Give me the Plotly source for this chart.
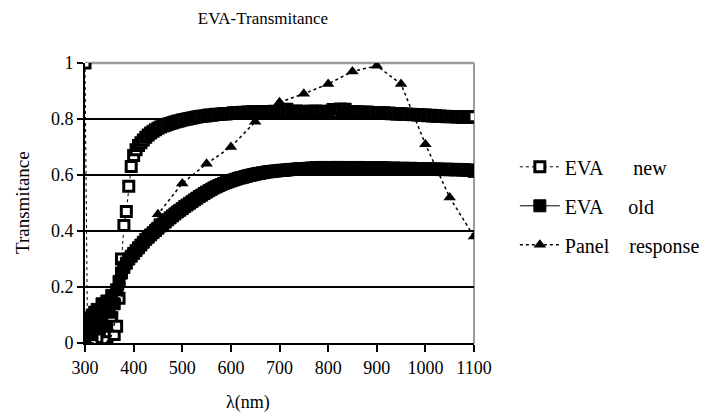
import plotly.graph_objects as go

# ---------------- data ----------------
WAVELENGTH = [
    300, 305, 310, 315, 320, 325, 330, 335, 340, 345,
    350, 355, 360, 365, 370, 375, 380, 385, 390, 395,
    400, 405, 410, 415, 420, 425, 430, 435, 440, 445,
    450, 455, 460, 465, 470, 475, 480, 485, 490, 495,
    500, 505, 510, 515, 520, 525, 530, 535, 540, 545,
    550, 555, 560, 565, 570, 575, 580, 585, 590, 595,
    600, 605, 610, 615, 620, 625, 630, 635, 640, 645,
    650, 655, 660, 665, 670, 675, 680, 685, 690, 695,
    700, 705, 710, 715, 720, 725, 730, 735, 740, 745,
    750, 755, 760, 765, 770, 775, 780, 785, 790, 795,
    800, 805, 810, 815, 820, 825, 830, 835, 840, 845,
    850, 855, 860, 865, 870, 875, 880, 885, 890, 895,
    900, 905, 910, 915, 920, 925, 930, 935, 940, 945,
    950, 955, 960, 965, 970, 975, 980, 985, 990, 995,
    1000, 1005, 1010, 1015, 1020, 1025, 1030, 1035, 1040, 1045,
    1050, 1055, 1060, 1065, 1070, 1075, 1080, 1085, 1090, 1095,
    1100,
]

EVA_NEW = [
    1.00, 0.05, 0.09, 0.03, 0.11, 0.04, 0.08, 0.02, 0.06, 0.01,
    0.04, 0.09, 0.03, 0.06, 0.16, 0.30, 0.42, 0.47, 0.56, 0.63,
    0.67, 0.69, 0.705, 0.715, 0.725, 0.735, 0.743, 0.75, 0.756, 0.762,
    0.767, 0.771, 0.775, 0.778, 0.781, 0.784, 0.787, 0.789, 0.792, 0.794,
    0.796, 0.798, 0.80, 0.802, 0.804, 0.805, 0.807, 0.809, 0.81, 0.811,
    0.812, 0.814, 0.813, 0.815, 0.817, 0.816, 0.818, 0.819, 0.818, 0.82,
    0.82, 0.822, 0.821, 0.823, 0.822, 0.824, 0.823, 0.825, 0.824, 0.826,
    0.825, 0.826, 0.824, 0.827, 0.826, 0.825, 0.827, 0.826, 0.828, 0.826,
    0.827, 0.826, 0.828, 0.835, 0.826, 0.828, 0.827, 0.829, 0.827, 0.826,
    0.828, 0.827, 0.826, 0.828, 0.827, 0.829, 0.826, 0.827, 0.828, 0.826,
    0.827, 0.828, 0.834, 0.827, 0.825, 0.836, 0.827, 0.835, 0.826, 0.824,
    0.825, 0.826, 0.824, 0.825, 0.823, 0.824, 0.825, 0.823, 0.822, 0.823,
    0.822, 0.823, 0.821, 0.822, 0.82, 0.821, 0.819, 0.82, 0.818, 0.819,
    0.818, 0.817, 0.818, 0.816, 0.817, 0.815, 0.816, 0.814, 0.815, 0.813,
    0.814, 0.812, 0.813, 0.811, 0.812, 0.81, 0.811, 0.809, 0.81, 0.808,
    0.809, 0.808, 0.809, 0.807, 0.808, 0.806, 0.807, 0.808, 0.806, 0.807,
    0.808,
]

EVA_OLD = [
    0.00, 0.07, 0.03, 0.10, 0.05, 0.12, 0.08, 0.14, 0.06, 0.15,
    0.11, 0.17, 0.14, 0.19, 0.22, 0.25, 0.27, 0.285, 0.30, 0.31,
    0.32, 0.33, 0.34, 0.35, 0.36, 0.37, 0.378, 0.386, 0.394, 0.402,
    0.41, 0.418, 0.425, 0.432, 0.44, 0.447, 0.454, 0.461, 0.468, 0.474,
    0.48, 0.487, 0.493, 0.499, 0.505, 0.511, 0.517, 0.523, 0.528, 0.534,
    0.539, 0.544, 0.549, 0.554, 0.558, 0.562, 0.566, 0.57, 0.573, 0.576,
    0.579, 0.582, 0.585, 0.588, 0.59, 0.592, 0.595, 0.597, 0.599, 0.601,
    0.603, 0.605, 0.606, 0.608, 0.609, 0.611, 0.612, 0.613, 0.614, 0.615,
    0.616, 0.617, 0.617, 0.618, 0.619, 0.62, 0.62, 0.621, 0.622, 0.622,
    0.623, 0.623, 0.624, 0.625, 0.624, 0.626, 0.625, 0.627, 0.626, 0.625,
    0.626, 0.627, 0.625, 0.626, 0.627, 0.626, 0.625, 0.627, 0.626, 0.625,
    0.626, 0.625, 0.627, 0.626, 0.625, 0.626, 0.624, 0.625, 0.626, 0.625,
    0.624, 0.625, 0.626, 0.624, 0.625, 0.623, 0.624, 0.625, 0.623, 0.624,
    0.623, 0.624, 0.622, 0.623, 0.624, 0.622, 0.623, 0.621, 0.622, 0.623,
    0.621, 0.622, 0.62, 0.621, 0.622, 0.62, 0.621, 0.619, 0.62, 0.621,
    0.619, 0.62, 0.618, 0.619, 0.62, 0.618, 0.619, 0.617, 0.618, 0.616,
    0.613,
]

PANEL_WL = [300, 350, 400, 450, 500, 550, 600, 650, 700, 750, 800, 850, 900, 950, 1000, 1050, 1100]
PANEL_RESPONSE = [0.0, 0.0, 0.33, 0.46, 0.57, 0.64, 0.70, 0.79, 0.86, 0.89, 0.925, 0.97, 0.99, 0.925, 0.71, 0.52, 0.38]

SERIES_NAMES = ["EVA\u00a0\u00a0\u00a0\u00a0\u00a0\u00a0new", "EVA\u00a0\u00a0\u00a0\u00a0\u00a0old",
                "Panel\u00a0\u00a0\u00a0\u00a0response"]
X_TICKS = [300, 400, 500, 600, 700, 800, 900, 1000, 1100]
Y_TICKS = [0, 0.2, 0.4, 0.6, 0.8, 1]

FONT = "Liberation Serif"

fig = go.Figure()

fig.add_trace(go.Scatter(
    x=WAVELENGTH, y=EVA_NEW, name=SERIES_NAMES[0], legendgroup="a_new",
    mode="lines+markers",
    line=dict(color="black", width=1, dash="dot"),
    marker=dict(symbol="square", size=10, color="white", line=dict(color="black", width=3)),
))
fig.add_trace(go.Scatter(
    x=WAVELENGTH, y=EVA_OLD, name=SERIES_NAMES[1], legendgroup="b_old",
    mode="lines+markers",
    line=dict(color="black", width=1),
    marker=dict(symbol="square", size=12, color="black", line=dict(color="black", width=1)),
))
fig.add_trace(go.Scatter(
    x=PANEL_WL, y=PANEL_RESPONSE, name=SERIES_NAMES[2], legendgroup="c_panel",
    mode="lines+markers",
    line=dict(color="black", width=1.5, dash="dot"),
    marker=dict(symbol="triangle-up", size=11, color="black"),
))

fig.update_layout(
    width=711, height=418,
    margin=dict(l=85, r=237, t=63, b=75, autoexpand=False),
    paper_bgcolor="white", plot_bgcolor="white",
    font=dict(family=FONT, size=18, color="black"),
    title=dict(text="EVA-Transmitance", x=263 / 711,
               xanchor="center", y=1 - 18 / 418, yanchor="middle",
               font=dict(family=FONT, size=17, color="black")),
    showlegend=True,
    legend=dict(x=1.105, y=0.49, xanchor="left", yanchor="middle",
                traceorder="grouped", tracegroupgap=10, itemwidth=40,
                font=dict(family=FONT, size=20, color="black"),
                bgcolor="rgba(0,0,0,0)"),
    xaxis=dict(range=[300, 1100], tickvals=X_TICKS, showgrid=False, zeroline=False,
               showline=True, linecolor="black", linewidth=2,
               ticks="outside", ticklen=7, tickwidth=2, tickcolor="black",
               tickfont=dict(family=FONT, size=18)),
    yaxis=dict(range=[0, 1], tickvals=Y_TICKS, showgrid=True, gridcolor="black", gridwidth=2,
               zeroline=False, showline=True, linecolor="black", linewidth=2,
               ticks="outside", ticklen=6, tickwidth=2, tickcolor="black",
               tickfont=dict(family=FONT, size=18)),
    shapes=[
        dict(type="line", xref="paper", yref="paper", x0=0, x1=1, y0=1, y1=1,
             line=dict(color="#9a9a9a", width=2.5), layer="between"),
        dict(type="line", xref="paper", yref="paper", x0=1, x1=1, y0=0, y1=1,
             line=dict(color="#9a9a9a", width=2), layer="between"),
    ],
    annotations=[
        dict(text="Transmitance", xref="paper", yref="paper", x=-(85 - 22) / 389, y=0.5,
             xanchor="center", yanchor="middle", textangle=-90, showarrow=False,
             font=dict(family=FONT, size=19, color="black")),
        dict(text="λ(nm)", xref="paper", yref="paper", x=(248 - 85) / 389, y=-(402 - 343) / 280,
             xanchor="center", yanchor="middle", showarrow=False,
             font=dict(family=FONT, size=18, color="black")),
    ],
)

fig.write_html("out.html")
